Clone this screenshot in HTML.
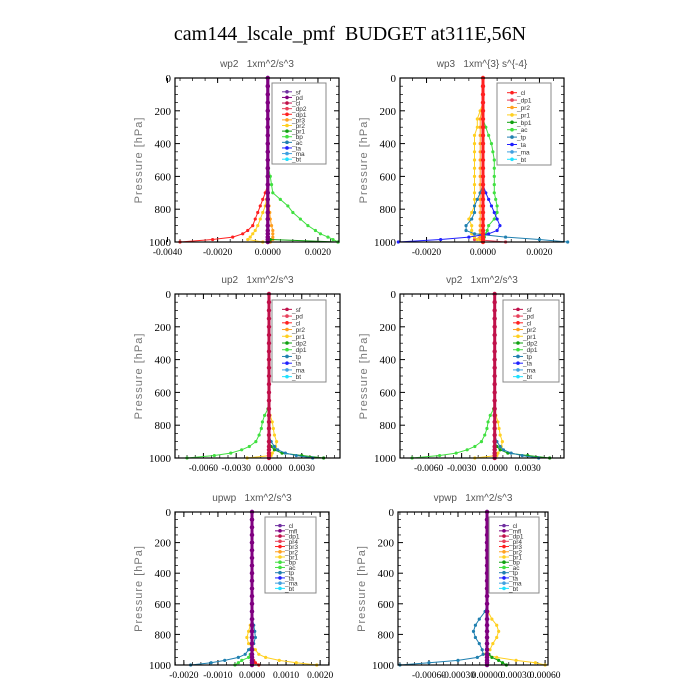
<!DOCTYPE html>
<html><head><meta charset="utf-8">
<style>
body{margin:0;background:#fff;}
svg{display:block;}
svg text{white-space:pre;}
</style></head>
<body>
<svg id="c" width="700" height="700" xmlns="http://www.w3.org/2000/svg">
<text x="350" y="40" text-anchor="middle" font-family="Liberation Serif, serif" font-size="20">cam144_lscale_pmf  BUDGET at311E,56N</text>
</svg>
<script>
// pressure levels (hPa)
const levels = [0,50,100,150,200,250,300,350,400,450,500,550,600,650,700,740,780,820,860,900,930,950,970,985,1000];
const yTicks = [0,200,400,600,800,1000];

// wp2 panel
const wp2Bp  = [0,0,0,0,0,0,0,0,0,0,0,0.00003,0.0001,0.00015,0.0002,0.0005,0.0008,0.001,0.0013,0.0016,0.0019,0.0021,0.0024,0.0026,0.0028];
const wp2Dp1 = [0,0,0,0,0,0,0,0,0,0,0,0,0,0,-0.0001,-0.0002,-0.0003,-0.0004,-0.0005,-0.0006,-0.0008,-0.001,-0.0014,-0.0022,-0.0035];
const wp2Pr2 = [0,0,0,0,0,0,0,0,0,0,0,0,0,0,0,-0.00005,-0.0001,-0.0002,-0.0003,-0.0004,-0.0005,-0.0006,-0.0007,-0.0008,-0.0002];
const wp2Pr3 = [0,0,0,0,0,0,0,0,0,0,0,0,0,0,0,0,0.00005,0.00008,0.0001,0.00015,0.0002,0.0002,0.0002,0.0002,0.0001];
const wp2Pr1 = [0,0,0,0,0,0,0,0,0,0,0,0,0,0,0,0,0,0,0,0,0,0,0,0.0001,0.0028];
const wp2Ticks = [-0.004,-0.002,0,0.002];
const wp2TickLabels = ["-0.0040","-0.0020","0.0000","0.0020"];

// wp3 panel
const wp3Ac  = [0,0,0,0,0,0,0.0001,0.0002,0.0003,0.00035,0.0004,0.0004,0.0004,0.0004,0.0004,0.00045,0.0005,0.0005,0.0004,0.0002,0.00015,0.0001,0.00005,0,0];
const wp3Ta  = [0,0,0,0,0,0,0,0,0,0,0,0,0,0,0.0001,0.0002,0.0003,0.0004,0.0005,0.0006,0.0005,0.0002,-0.0005,-0.0015,-0.003];
const wp3Tp  = [0,0,0,0,0,0,0,0,0,0,0,0,0,0,-0.0001,-0.0002,-0.0003,-0.0003,-0.0004,-0.0006,-0.0006,-0.0003,0.0008,0.002,0.003];
const wp3Pr1 = [0,0,0,0,-0.0001,-0.0002,-0.0002,-0.0003,-0.0003,-0.0003,-0.0003,-0.0003,-0.0003,-0.0003,-0.0003,-0.0003,-0.0003,-0.0004,-0.0005,-0.0004,-0.0004,-0.0004,-0.0003,-0.0002,0];
const wp3Pr2 = [0,0,0,0,-0.00005,-0.0001,-0.0001,-0.0001,-0.0001,-0.0001,-0.0001,-0.0001,-0.0001,-0.0001,-0.0001,-0.0001,-0.0001,-0.0001,-0.0001,-0.0001,-0.0001,-0.0001,-0.0001,-0.0001,0];
const wp3Dp1 = [0,0,0,0,0,0,0,0,0,0,0,0,0,0,0,0,0,0,0,0,0,0,-0.0001,-0.0003,0.0008];
const wp3Ticks = [-0.002,0,0.002];
const wp3TickLabels = ["-0.0020","0.0000","0.0020"];

// up2 panel
const up2Dp1 = [0,0,0,0,0,0,0,0,0,0,0,0,0,0,-0.0001,-0.0004,-0.0006,-0.0007,-0.0009,-0.0012,-0.0018,-0.0025,-0.0035,-0.005,-0.0075];
const up2Pr1 = [0,0,0,0,0,0,0,0,0,0,0,0,0,0,0,0.0001,0.0003,0.0004,0.0005,0.0007,0.0006,0.0005,0.0003,0.0002,-0.002];
const up2Dp2 = [0,0,0,0,0,0,0,0,0,0,0,0,0,0,0,0,0,0,0,0,0.0002,0.0005,0.0012,0.003,0.005];
const up2Tp  = [0,0,0,0,0,0,0,0,0,0,0,0,0,0,0,0,0,0,0,0.0002,0.0005,0.0008,0.0015,0.0025,0.004];
const up2Ticks = [-0.006,-0.003,0,0.003];
const up2TickLabels = ["-0.0060","-0.0030","0.0000","0.0030"];

// vp2 panel
const vp2Dp1 = [0,0,0,0,0,0,0,0,0,0,0,0,0,0,-0.0001,-0.0004,-0.0006,-0.0007,-0.0009,-0.0012,-0.0018,-0.0025,-0.0035,-0.005,-0.0075];
const vp2Pr1 = [0,0,0,0,0,0,0,0,0,0,0,0,0,0,0,0.0001,0.0003,0.0004,0.0005,0.0007,0.0006,0.0005,0.0003,0.0002,-0.0018];
const vp2Dp2 = [0,0,0,0,0,0,0,0,0,0,0,0,0,0,0,0,0,0,0,0,0.0002,0.0005,0.0012,0.003,0.005];
const vp2Tp  = [0,0,0,0,0,0,0,0,0,0,0,0,0,0,0,0,0,0,0,0.0002,0.0005,0.0008,0.0015,0.0025,0.004];
const vp2Ticks = [-0.006,-0.003,0,0.003];
const vp2TickLabels = ["-0.0060","-0.0030","0.0000","0.0030"];

// upwp panel
const upwpTp  = [0,0,0,0,0,0,0,0,0,0,0,0,0,0,0.00002,0.00005,0.00008,0.0001,0.00005,-0.0001,-0.0002,-0.0004,-0.0008,-0.0012,-0.0018];
const upwpPr1 = [0,0,0,0,0,0,0,0,0,0,0,0,0,0,0,-0.00005,-0.0001,-0.00015,-0.0001,0.0001,0.0002,0.0004,0.0008,0.0013,0.0019];
const upwpBp  = [0,0,0,0,0,0,0,0,0,0,0,0,0,0,0,0,0,0,0,0,-0.00005,-0.0001,-0.0003,-0.0004,-0.0005];
const upwpPr3 = [0,0,0,0,0,0,0,0,0,0,0,0,0,0,0,0,0,0,0,0,0,0,0.00005,0.0001,0.0002];
const upwpTicks = [-0.002,-0.001,0,0.001,0.002];
const upwpTickLabels = ["-0.0020","-0.0010","0.0000","0.0010","0.0020"];

// vpwp panel
const vpwpTp  = [0,0,0,0,0,0,0,0,0,0,0,0,0,-0.00002,-0.00008,-0.00012,-0.00014,-0.00012,-0.00008,-0.00005,-0.00004,-0.0001,-0.0003,-0.0006,-0.0009];
const vpwpPr1 = [0,0,0,0,0,0,0,0,0,0,0,0,0,0.00001,0.00005,0.0001,0.00012,0.0001,0.00006,0.00003,-0.00004,0.0001,0.0003,0.0005,0.0006];
const vpwpBp  = [0,0,0,0,0,0,0,0,0,0,0,0,0,0,0,0,0,0,0,0,0.00002,0.00005,0.00012,0.00016,0.0002];
const vpwpTicks = [-0.0006,-0.0003,0,0.0003,0.0006];
const vpwpTickLabels = ["-0.00060","-0.00030","0.00000","0.00030","0.00060"];

const zeros = levels.map(()=>0);
const C = {purple:'#7030a0',dpurple:'#800080',crimson:'#c0104a',pink:'#e8405a',red:'#ff2020',orange:'#ffa020',yellow:'#ffd020',dgreen:'#10a010',green:'#40e040',teal:'#2080b0',blue:'#2020ff',lblue:'#40a0e0',cyan:'#20e0ff'};

const panels = [
 {name:'wp2',title:'wp2   1xm^2/s^3',x0:175,x1:339,y0:78,y1:242,xmin:-0.0037,xmax:0.00284,ticks:wp2Ticks,tl:wp2TickLabels,leg:[272,83,326,164],
  series:[['_sf',C.purple,zeros,3],['_pd',C.dpurple,zeros,3],['_cl',C.crimson,zeros],['_dp2',C.pink,zeros],['_dp1',C.red,wp2Dp1],['_pr3',C.orange,wp2Pr3],['_pr2',C.yellow,wp2Pr2],['_pr1',C.dgreen,wp2Pr1],['_bp',C.green,wp2Bp],['_ac',C.teal,zeros],['_ta',C.blue,zeros],['_ma',C.lblue,zeros],['_bt',C.cyan,zeros]],front:[0,1]},
 {name:'wp3',title:'wp3   1xm^{3} s^{-4}',x0:400,x1:564,y0:78,y1:242,xmin:-0.00294,xmax:0.00287,ticks:wp3Ticks,tl:wp3TickLabels,leg:[497,83,551,165],
  series:[['_cl',C.red,zeros,3],['_dp1',C.pink,wp3Dp1],['_pr2',C.orange,wp3Pr2],['_pr1',C.yellow,wp3Pr1],['_bp1',C.dgreen,zeros],['_ac',C.green,wp3Ac],['_tp',C.teal,wp3Tp],['_ta',C.blue,wp3Ta],['_ma',C.lblue,zeros],['_bt',C.cyan,zeros]],front:[0]},
 {name:'up2',title:'up2   1xm^2/s^3',x0:175,x1:340,y0:294,y1:458,xmin:-0.0086,xmax:0.0065,ticks:up2Ticks,tl:up2TickLabels,leg:[272,300,326,382],
  series:[['_sf',C.crimson,zeros,3],['_pd',C.pink,zeros],['_cl',C.red,zeros],['_pr2',C.orange,zeros],['_pr1',C.yellow,up2Pr1],['_dp2',C.dgreen,up2Dp2],['_dp1',C.green,up2Dp1],['_tp',C.teal,up2Tp],['_ta',C.blue,zeros],['_ma',C.lblue,zeros],['_bt',C.cyan,zeros]],front:[0]},
 {name:'vp2',title:'vp2   1xm^2/s^3',x0:400,x1:564,y0:294,y1:458,xmin:-0.0086,xmax:0.0063,ticks:vp2Ticks,tl:vp2TickLabels,leg:[503,300,559,382],
  series:[['_sf',C.crimson,zeros,3],['_pd',C.pink,zeros],['_cl',C.red,zeros],['_pr2',C.orange,zeros],['_pr1',C.yellow,vp2Pr1],['_dp2',C.dgreen,vp2Dp2],['_dp1',C.green,vp2Dp1],['_tp',C.teal,vp2Tp],['_ta',C.blue,zeros],['_ma',C.lblue,zeros],['_bt',C.cyan,zeros]],front:[0]},
 {name:'upwp',title:'upwp   1xm^2/s^3',x0:175,x1:329,y0:512,y1:665,xmin:-0.00226,xmax:0.00226,ticks:upwpTicks,tl:upwpTickLabels,leg:[265,517,316,593],
  series:[['_cl',C.purple,zeros,3],['_mfl',C.dpurple,zeros,3],['_dp1',C.crimson,zeros],['_pr4',C.pink,zeros],['_pr3',C.red,upwpPr3],['_pr2',C.orange,zeros],['_pr1',C.yellow,upwpPr1],['_bp',C.green,upwpBp],['_ac',C.green,zeros],['_tp',C.teal,upwpTp],['_ta',C.blue,zeros],['_ma',C.lblue,zeros],['_bt',C.cyan,zeros]],front:[0,1]},
 {name:'vpwp',title:'vpwp   1xm^2/s^3',x0:398,x1:548,y0:512,y1:665,xmin:-0.00092,xmax:0.00063,ticks:vpwpTicks,tl:vpwpTickLabels,leg:[489,517,539,593],
  series:[['_cl',C.purple,zeros,3],['_mfl',C.dpurple,zeros,3],['_dp1',C.crimson,zeros],['_pr4',C.pink,zeros],['_pr3',C.red,zeros],['_pr2',C.orange,zeros],['_pr1',C.yellow,vpwpPr1],['_bp',C.dgreen,vpwpBp],['_ac',C.green,zeros],['_tp',C.teal,vpwpTp],['_ta',C.blue,zeros],['_ma',C.lblue,zeros],['_bt',C.cyan,zeros]],front:[0,1]}
];

const svg = document.getElementById('c');
const NS = 'http://www.w3.org/2000/svg';
function mk(tag, attrs, parent){const e=document.createElementNS(NS,tag);for(const k in attrs)e.setAttribute(k,attrs[k]);(parent||svg).appendChild(e);return e;}

panels.forEach(pn=>{
  const g = mk('g',{});
  
  
  const xs = v => pn.x0 + (v-pn.xmin)/(pn.xmax-pn.xmin)*(pn.x1-pn.x0);
  const ys = p => pn.y0 + p/1000*(pn.y1-pn.y0);
  const t = mk('text',{x:(pn.x0+pn.x1)/2,y:pn.y0-11,'text-anchor':'middle','font-family':'Liberation Sans, sans-serif','font-size':'10',fill:'#555'},g);
  t.textContent = pn.title;
  
  
  const yl = mk('text',{x:0,y:0,transform:`translate(${pn.x0-33},${(pn.y0+pn.y1)/2}) rotate(-90)`,'text-anchor':'middle','font-family':'Liberation Sans, sans-serif','font-size':'11',fill:'#777','letter-spacing':'1'},g);
  yl.textContent = 'Pressure [hPa]';
  
  
  yTicks.forEach(v=>{
    const y = ys(v);
    mk('line',{x1:pn.x0,y1:y,x2:pn.x0+5,y2:y,stroke:'#000','stroke-width':1},g);
    mk('line',{x1:pn.x1,y1:y,x2:pn.x1-5,y2:y,stroke:'#000','stroke-width':1},g);
    const tt = mk('text',{x:pn.x0-4,y:y+4,'text-anchor':'end','font-family':'Liberation Serif, serif','font-size':'11'},g);
    tt.textContent = v;
    
    
  });
  for(let v=50;v<1000;v+=50){ if(v%200===0) continue; const y=ys(v);
    mk('line',{x1:pn.x0,y1:y,x2:pn.x0+3,y2:y,stroke:'#000','stroke-width':0.7},g);
    mk('line',{x1:pn.x1,y1:y,x2:pn.x1-3,y2:y,stroke:'#000','stroke-width':0.7},g);}
  pn.ticks.forEach((v,i)=>{
    const x = xs(v);
    mk('line',{x1:x,y1:pn.y1,x2:x,y2:pn.y1-5,stroke:'#000'},g);
    mk('line',{x1:x,y1:pn.y0,x2:x,y2:pn.y0+5,stroke:'#000'},g);
    const tt = mk('text',{x:x,y:pn.y1+13,'text-anchor':'middle','font-family':'Liberation Serif, serif','font-size':'9.5'},g);
    tt.textContent = pn.tl[i];
    
    
  });
  const step = (pn.ticks[1]-pn.ticks[0])/4;
  for(let v=pn.ticks[0]-8*step; v<=pn.xmax; v+=step){ if(v<pn.xmin) continue; const x=xs(v);
    mk('line',{x1:x,y1:pn.y1,x2:x,y2:pn.y1-3,stroke:'#000','stroke-width':0.7},g);
    mk('line',{x1:x,y1:pn.y0,x2:x,y2:pn.y0+3,stroke:'#000','stroke-width':0.7},g);}
  const order = pn.series.map((s,i)=>i).filter(i=>!pn.front.includes(i)).concat(pn.front);
  order.forEach(i=>{
    const [lab,col,vals,w] = pn.series[i];
    const pts = levels.map((p,k)=>xs(vals[k]).toFixed(1)+','+ys(p).toFixed(1)).join(' ');
    const pl = mk('polyline',{points:pts,fill:'none',stroke:col,'stroke-width':w||1},g);
    
    
    levels.forEach((p,k)=>{
      const m = mk('circle',{cx:xs(vals[k]),cy:ys(p),r:w?2.2:1.6,fill:col},g);
      
      
    });
  });
  const fr = mk('rect',{x:pn.x0,y:pn.y0,width:pn.x1-pn.x0,height:pn.y1-pn.y0,fill:'none',stroke:'#000','stroke-width':1.2},g);
  
  
  const [lx0,ly0,lx1,ly1] = pn.leg;
  const lg = mk('g',{},g);
  
  
  mk('rect',{x:lx0,y:ly0,width:lx1-lx0,height:ly1-ly0,fill:'#fff',stroke:'#888','stroke-width':1},lg);
  const n = pn.series.length, dy = (ly1-ly0-8)/n;
  pn.series.forEach((s,i)=>{
    const y = ly0+6+dy*(i+0.5);
    const e = mk('g',{},lg);
    
    
    mk('line',{x1:lx0+10,y1:y,x2:lx0+20,y2:y,stroke:s[1],'stroke-width':1},e);
    mk('circle',{cx:lx0+15,cy:y,r:1.8,fill:s[1]},e);
    const tt = mk('text',{x:lx0+20,y:y+2.5,'font-family':'Liberation Sans, sans-serif','font-size':'6.5',fill:'#333'},e);
    tt.textContent = s[0];
  });
});
</script>
</body></html>
